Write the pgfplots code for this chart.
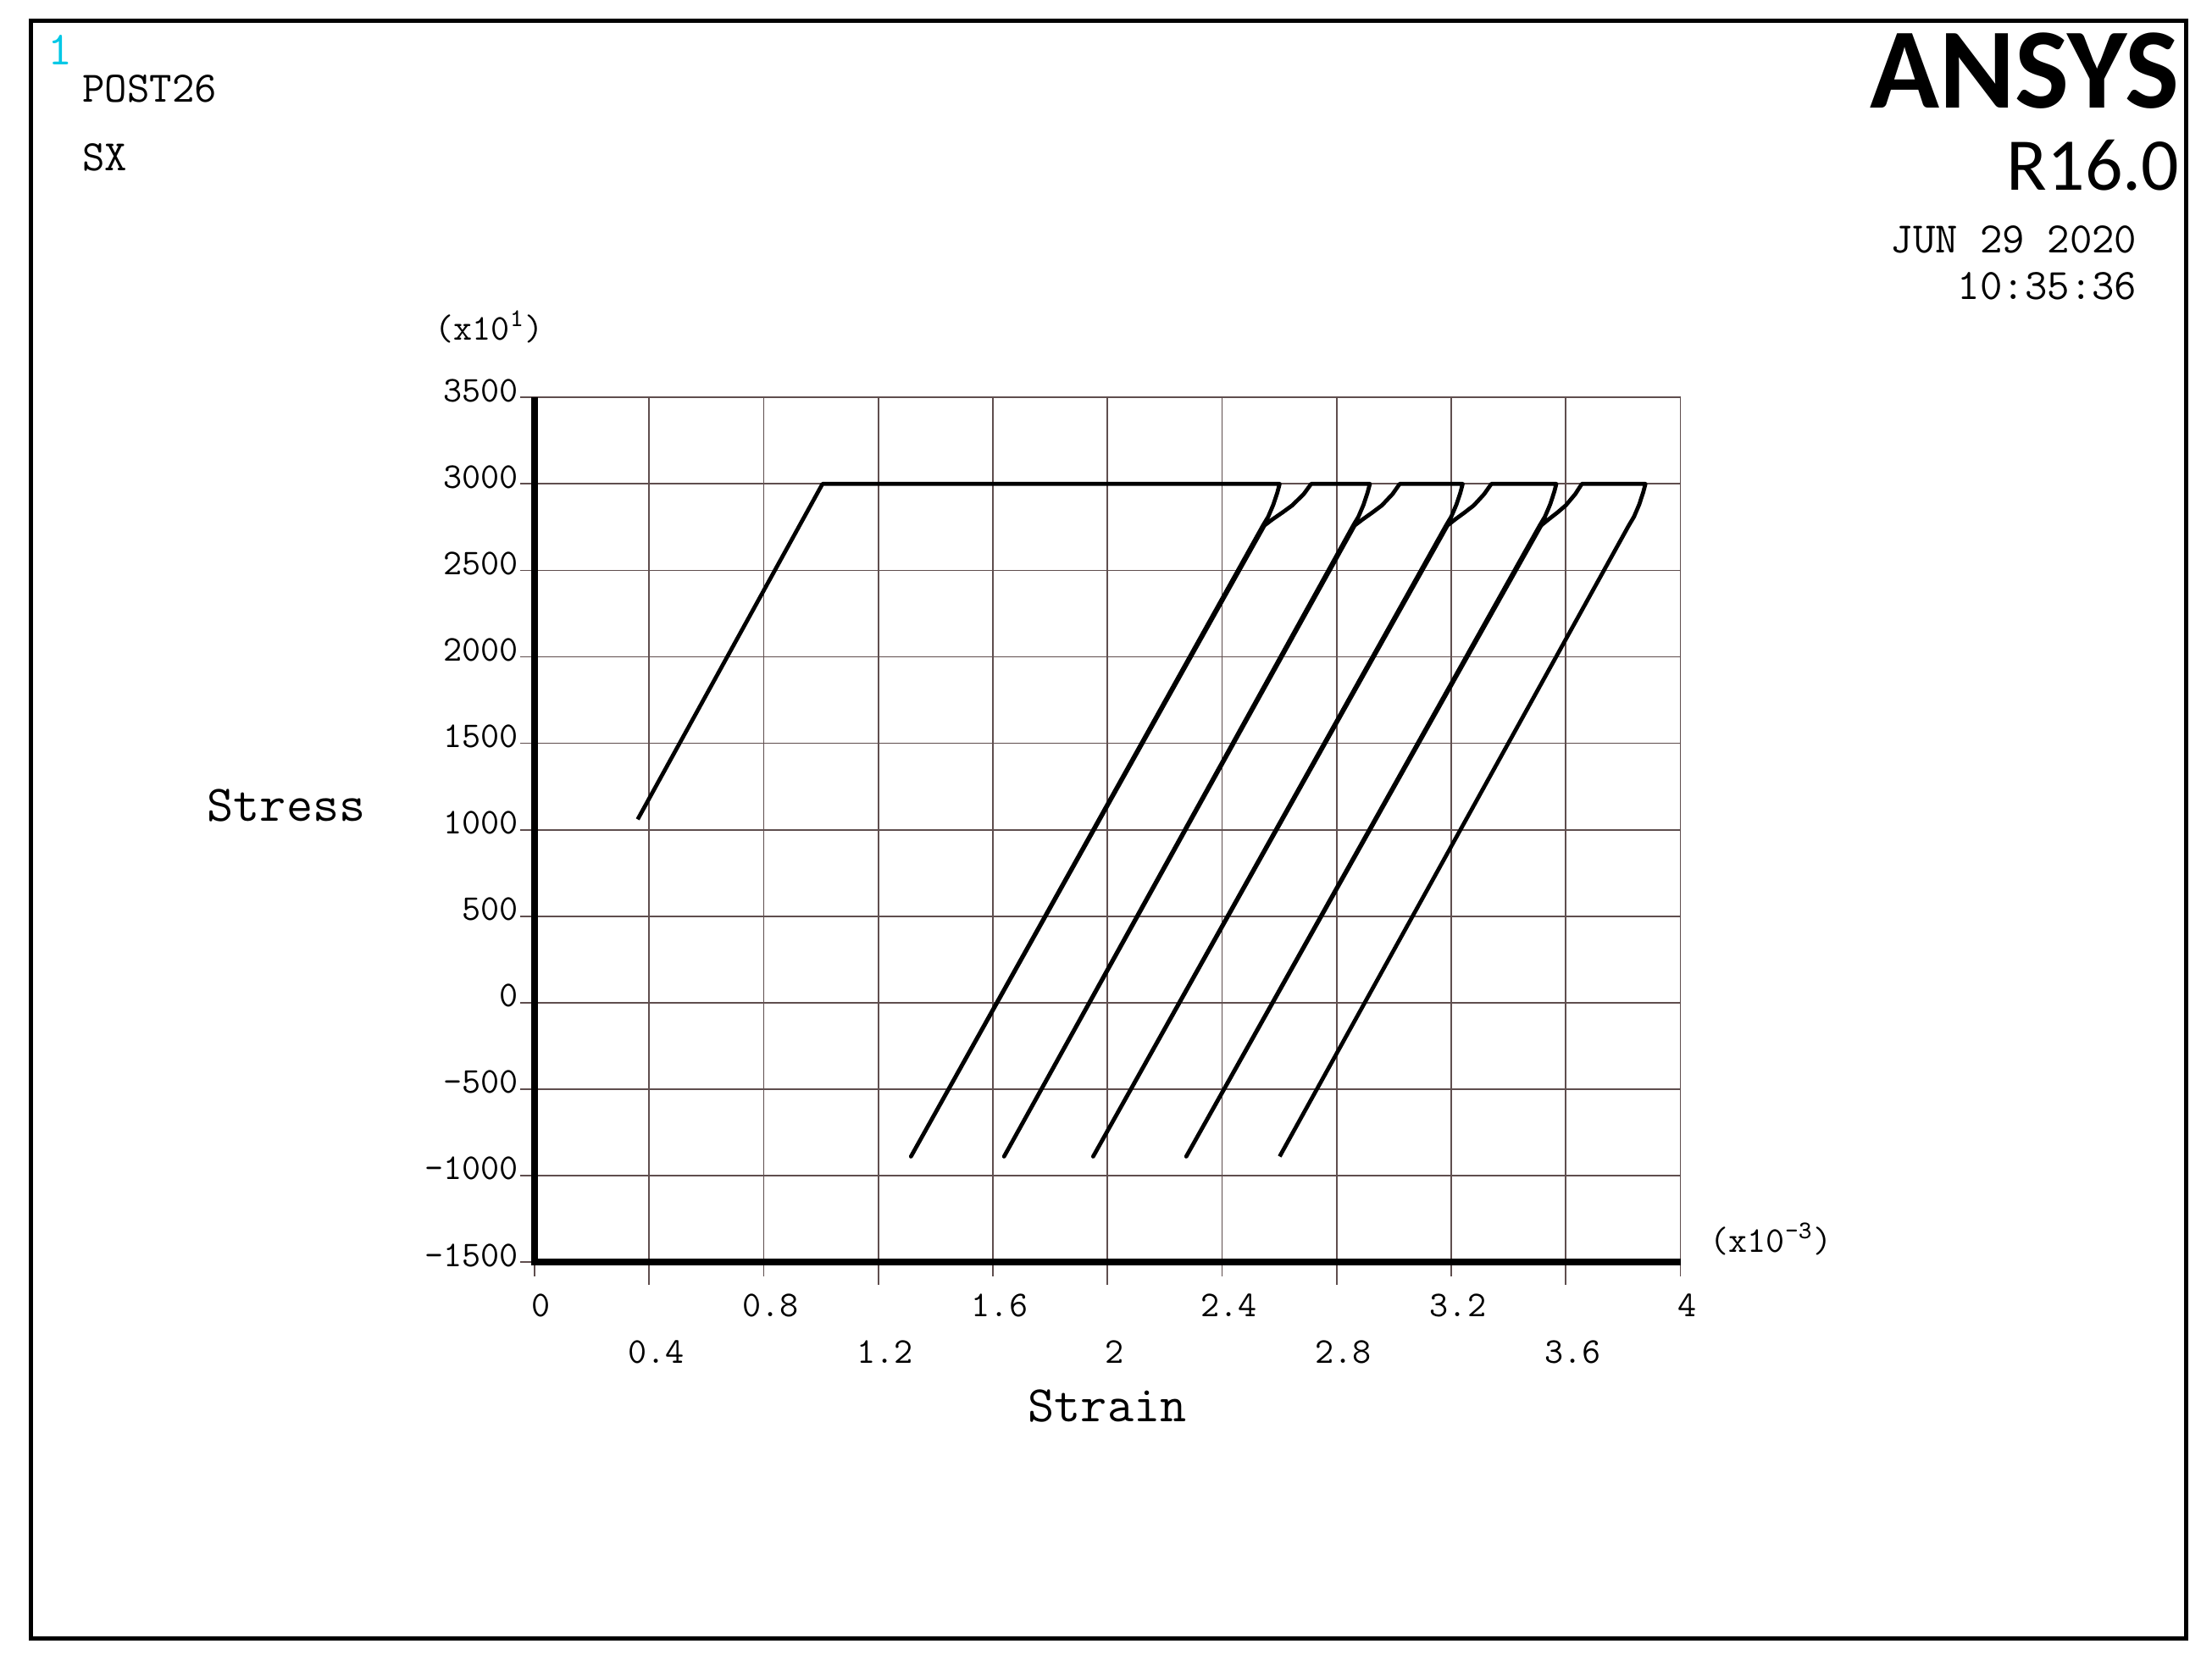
\documentclass[border=0pt]{standalone}
\usepackage{fontspec}
\setmainfont{Liberation Mono}
\newfontfamily\carlito{Carlito}
\usepackage{pgfplots}
\pgfplotsset{compat=1.18}
\definecolor{gridcol}{RGB}{95,78,78}
\definecolor{cyanone}{RGB}{0,200,230}
\newcommand{\mytt}{\ttfamily\addfontfeature{FakeBold=1.6}}
\newcommand{\tk}{\mytt\fontsize{12.2}{13}\selectfont}
\begin{document}
\begin{tikzpicture}[x=1cm,y=1cm]
\path[use as bounding box] (0,0) rectangle (26.11,19.67);
\draw[line width=0.5mm] (0.36,0.32) rectangle (25.80,19.42);
\begin{axis}[
  at={(6.31cm,4.77cm)}, anchor=south west,
  scale only axis, width=13.525cm, height=10.207cm,
  xmin=0, xmax=4, ymin=-1500, ymax=3500,
  clip=false,
  axis line style={gridcol, line width=0.5pt},
  grid=major,
  major grid style={gridcol, line width=0.5pt},
  tick align=outside,
  tick pos=left,
  major tick length=1.7mm,
  tick style={gridcol, line width=0.5pt},
  xtick={0,0.8,1.6,2.4,3.2,4},
  xticklabels={0,0.8,1.6,2.4,3.2,4},
  extra x ticks={0.4,1.2,2,2.8,3.6},
  extra x tick labels={0.4,1.2,2,2.8,3.6},
  extra x tick style={grid=major, major tick length=2.7mm, xticklabel style={yshift=-4.5mm}},
  ytick={-1500,-1000,-500,0,500,1000,1500,2000,2500,3000,3500},
  yticklabels={-1500,-1000,-500,0,500,1000,1500,2000,2500,3000,3500},
  xticklabel style={font=\tk, xshift=0.8mm, yshift=-0.8mm},
  yticklabel style={font=\tk, yshift=0.8mm, xshift=1.0mm},
]
\addplot[black, line width=1.35pt, line join=round] coordinates {
(0.360,1060) (1.005,3000) (2.601,3000)
(2.593,2950) (2.579,2880) (2.561,2810) (2.543,2760) (1.314,-890)
(2.548,2760) (2.576,2795) (2.611,2835) (2.645,2876) (2.685,2941) (2.711,3000) (2.916,3000)
(2.908,2950) (2.894,2880) (2.876,2810) (2.858,2760) (1.639,-890)
(2.863,2760) (2.891,2795) (2.925,2835) (2.958,2876) (2.995,2941) (3.020,3000) (3.240,3000)
(3.232,2950) (3.218,2880) (3.200,2810) (3.182,2760) (1.950,-890)
(3.187,2760) (3.214,2795) (3.247,2835) (3.279,2876) (3.315,2941) (3.340,3000) (3.567,3000)
(3.559,2950) (3.545,2880) (3.527,2810) (3.509,2760) (2.275,-890)
(3.514,2760) (3.540,2795) (3.571,2835) (3.600,2876) (3.633,2941) (3.656,3000) (3.878,3000)
(3.870,2950) (3.856,2880) (3.838,2810) (3.820,2760) (2.601,-890)
};
\draw[black, line width=0.87mm] (rel axis cs:0,1) -- (rel axis cs:0,0) -- (rel axis cs:1,0);
\end{axis}
\node[text=cyanone, font=\mytt\fontsize{16}{17}\selectfont] at (0.71,19.08) {1};
\node[anchor=west, font=\mytt\fontsize{14.6}{16}\selectfont] at (0.85,18.62) {POST26};
\node[anchor=west, font=\mytt\fontsize{14.6}{16}\selectfont] at (0.85,17.81) {SX};
\node[anchor=base east, inner sep=0pt, font=\carlito\bfseries\fontsize{38.5}{42}\selectfont] at (25.73,18.39) {ANSYS};
\node[anchor=base east, inner sep=0pt, font=\carlito\fontsize{25}{28}\selectfont] at (25.73,17.42) {R16.0};
\node[anchor=east, inner sep=0pt, font=\mytt\fontsize{14.6}{16}\selectfont] at (25.23,16.84) {JUN 29 2020};
\node[anchor=east, inner sep=0pt, font=\mytt\fontsize{14.6}{16}\selectfont] at (25.23,16.29) {10:35:36};
\node[anchor=west, inner sep=0pt, font=\tk] at (5.13,15.81) {(x10\textsuperscript{1})};
\node[anchor=west, inner sep=0pt, font=\tk] at (20.18,5.04) {(x10\textsuperscript{-3})};
\node[font=\mytt\fontsize{17.2}{19}\selectfont] at (3.38,10.16) {Stress};
\node[font=\mytt\fontsize{17.2}{19}\selectfont] at (13.07,3.07) {Strain};
\end{tikzpicture}
\end{document}
